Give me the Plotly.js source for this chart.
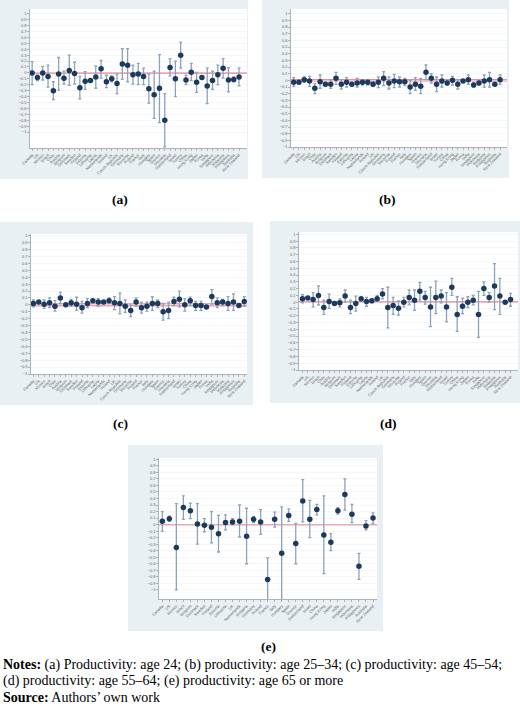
<!DOCTYPE html>
<html>
<head>
<meta charset="utf-8">
<script src="https://cdn.plot.ly/plotly-3.0.1.min.js"></script>
<style>html,body{margin:0;padding:0;background:#fff;}#chart{width:520px;height:719px;}</style>
</head>
<body>
<div id="chart"></div>
<script>
// ---------- DATA ----------
var countries40 = ["Canada","US","Mexico","Brazil","Chile","Austria","Belgium","Denmark","Sweden","Finland",
  "Estonia","Lithuania","Latvia","Netherlands","Ireland","UK","Czech Republic","Germany","Slovenia","Poland",
  "France","Italy","Hungary","Spain","Greece","Slovakia","Switzerland","Israel","Turkey","China",
  "Hong Kong","Japan","Korea","India","Singapore","Indonesia","Malaysia","Philippines","Australia","New Zealand"];
var countries31 = ["Canada","US","Mexico","Brazil","Belgium","Denmark","Sweden","Finland","Estonia","Lithuania",
  "UK","Netherlands","Bulgaria","Germany","Poland","France","Italy","Hungary","Spain","Greece",
  "Switzerland","Israel","China","Hong Kong","Japan","India","Singapore","Indonesia","Philippines","Australia","New Zealand"];

// (a) productivity: age 24
var estA = [0,-0.08,0,-0.06,-0.3,-0.02,-0.09,0.04,-0.01,-0.25,-0.14,-0.13,-0.07,0.07,-0.15,-0.1,-0.18,0.15,0.13,-0.03,
            -0.02,-0.06,-0.27,-0.37,-0.26,-0.8,0.09,-0.1,0.3,-0.12,0.01,-0.16,-0.08,-0.22,-0.13,-0.03,0.08,-0.12,-0.11,-0.07];
var loA  = [-0.2,-0.13,-0.12,-0.24,-0.45,-0.29,-0.19,-0.21,-0.19,-0.44,-0.28,-0.15,-0.26,-0.09,-0.25,-0.15,-0.35,-0.11,-0.15,-0.19,
            -0.2,-0.2,-0.51,-0.77,-0.84,-1.25,-0.05,-0.4,0.08,-0.2,-0.13,-0.33,-0.11,-0.52,-0.28,-0.2,-0.09,-0.32,-0.15,-0.22];
var hiA  = [0.19,-0.04,0.11,0.13,-0.15,0.26,0.03,0.3,0.18,-0.06,0.02,-0.11,0.12,0.21,-0.04,-0.05,-0.02,0.41,0.41,0.13,
            0.16,0.08,-0.02,0.03,0.31,-0.35,0.24,0.2,0.52,-0.04,0.16,0.01,-0.06,0.08,0.03,0.13,0.24,0.09,-0.07,0.08];

// (b) productivity: age 25-34
var estB = [-0.03,-0.03,0.01,-0.01,-0.12,-0.02,-0.06,-0.06,0.03,-0.06,-0.03,-0.06,-0.04,-0.03,-0.03,-0.06,-0.03,0.03,-0.04,-0.01,
            -0.02,-0.02,-0.1,-0.06,-0.09,0.12,0.03,-0.06,-0.01,-0.04,0,-0.06,-0.01,0.01,-0.07,-0.04,-0.01,0.01,-0.06,0.01];
var loB  = [-0.09,-0.05,-0.03,-0.09,-0.2,-0.12,-0.08,-0.12,-0.06,-0.13,-0.1,-0.07,-0.1,-0.07,-0.07,-0.09,-0.11,-0.08,-0.13,-0.11,
            -0.1,-0.08,-0.2,-0.15,-0.2,0.01,-0.04,-0.17,-0.1,-0.07,-0.07,-0.13,-0.02,-0.06,-0.1,-0.07,-0.1,-0.1,-0.07,-0.06];
var hiB  = [0.04,-0.02,0.05,0.06,-0.05,0.08,-0.04,0.01,0.12,0.01,0.04,-0.04,0.03,0.01,0.01,-0.02,0.05,0.13,0.05,0.09,
            0.05,0.03,0,0.04,0.03,0.23,0.1,0.05,0.08,-0.01,0.06,0.01,0,0.08,-0.04,-0.01,0.08,0.12,-0.05,0.08];

// (c) productivity: age 45-54
var estC = [0.02,0.04,0.01,0.03,-0.02,0.1,0,0.03,0.01,-0.04,0.02,0.06,0.04,0.04,0.06,0.03,0.02,-0.02,-0.08,0.04,
            -0.04,-0.02,0.02,0.02,-0.1,-0.08,0.05,0.08,0,0.06,-0.01,-0.01,-0.03,0.12,0.03,0.04,0.02,0.04,-0.01,0.05];
var loC  = [-0.03,0.03,-0.05,-0.04,-0.09,0.02,-0.01,-0.02,-0.08,-0.12,-0.04,0.05,-0.02,0.02,0.03,-0.07,-0.13,-0.11,-0.17,-0.02,
            -0.12,-0.09,-0.08,-0.04,-0.22,-0.2,-0.01,-0.03,-0.09,-0.01,-0.08,-0.08,-0.05,0.01,-0.04,-0.01,-0.08,-0.08,-0.02,-0.02];
var hiC  = [0.07,0.05,0.07,0.1,0.06,0.18,0.01,0.08,0.11,0.05,0.09,0.07,0.09,0.06,0.1,0.12,0.17,0.07,0,0.1,
            0.04,0.04,0.12,0.07,0.02,0.04,0.11,0.2,0.09,0.11,0.05,0.05,-0.02,0.22,0.1,0.08,0.12,0.16,0,0.12];

// (d) productivity: age 55-64
var estD = [0.05,0.06,0.04,0.1,-0.08,0.01,-0.02,-0.01,0.09,-0.08,-0.02,0.05,0.01,0.02,0.05,0.12,-0.08,-0.05,-0.09,0,
            0.07,0.03,0.16,0.07,-0.07,0.07,0.09,-0.07,0.22,-0.18,-0.06,0,0.03,-0.18,0.2,0.07,0.24,0.09,0,0.04];
var loD  = [-0.01,0.05,-0.07,-0.04,-0.18,-0.09,-0.03,-0.07,0,-0.17,-0.13,0.04,-0.06,-0.01,0.02,0.05,-0.38,-0.18,-0.19,-0.07,
            -0.04,-0.12,0.03,-0.03,-0.36,-0.17,-0.01,-0.29,0.1,-0.43,-0.17,-0.08,-0.04,-0.52,0.1,0,-0.11,-0.18,-0.01,-0.06];
var hiD  = [0.11,0.07,0.14,0.24,0.03,0.12,-0.01,0.05,0.18,0.03,0.09,0.06,0.07,0.05,0.1,0.2,0.22,0.07,0.02,0.07,
            0.18,0.18,0.29,0.16,0.22,0.31,0.18,0.14,0.35,0.08,0.06,0.08,0.1,0.16,0.3,0.14,0.57,0.35,0.01,0.13];

// (e) productivity: age 65 or more
var estE = [0.05,0.09,-0.35,0.26,0.21,0.01,-0.01,-0.04,-0.14,0.03,0.04,0.05,-0.18,0.08,0.04,-0.84,0.08,-0.44,0.14,-0.29,
            0.36,0.08,0.23,-0.16,-0.27,0.21,0.46,0.16,-0.64,-0.02,0.1];
var loE  = [-0.1,0.05,-1.0,0.08,0.09,-0.3,-0.11,-0.28,-0.42,-0.08,0,-0.19,-0.6,0.03,-0.15,-1.2,-0.04,-1.2,0.05,-0.6,
            0.04,-0.2,0.15,-0.75,-0.4,0.16,0.22,0.03,-0.84,-0.08,0.02];
var hiE  = [0.2,0.13,0.32,0.44,0.33,0.32,0.09,0.2,0.14,0.15,0.09,0.3,0.25,0.12,0.23,-0.51,0.19,0.27,0.24,0.02,
            0.69,0.37,0.31,0.44,-0.14,0.26,0.7,0.31,-0.44,0.06,0.18];

var panelLetters = ["(a)","(b)","(c)","(d)","(e)"];
var noteLines = [
  "<b>Notes:</b> (a) Productivity: age 24; (b) productivity: age 25–34; (c) productivity: age 45–54;",
  "(d) productivity: age 55–64; (e) productivity: age 65 or more",
  "<b>Source:</b> Authors’ own work"
];

// ---------- LAYOUT HELPERS ----------
var W = 520, H = 719;
function px(x){ return x / W; }
function py(y){ return 1 - y / H; }

var panels = [
  {est:estA, lo:loA, hi:hiA, cats:countries40, bg:[0,0,248,179],   plot:[30,9,247,148],   xr:[-0.4,40.5],  yr:[-1.27,1.08], zc:'#d9465f', zw:1.2, lab:[120,199]},
  {est:estB, lo:loB, hi:hiB, cats:countries40, bg:[262,0,509,178], plot:[291,9,507,147],  xr:[-0.5,40.3],  yr:[-1,1.07],    zc:'#ef8a9c', zw:2.5, lab:[387,199]},
  {est:estC, lo:loC, hi:hiC, cats:countries40, bg:[0,222,253,405], plot:[31,234,247,374], xr:[-0.43,39.5], yr:[-1,1.025],   zc:'#f2a3b2', zw:3.5, lab:[120,423]},
  {est:estD, lo:loD, hi:hiD, cats:countries40, bg:[270,221,520,403],plot:[299,232,518,370],xr:[-0.65,40.4], yr:[-1,1.035],   zc:'#d9465f', zw:1.2, lab:[388,423]},
  {est:estE, lo:loE, hi:hiE, cats:countries31, bg:[128,445,383,631],plot:[159,458,377,599],xr:[-0.47,30.57],yr:[-1.14,1.02], zc:'#d9465f', zw:1.2, lab:[268,646]}
];

var data = [], shapes = [], annotations = [];
var layout = {
  width: W, height: H,
  margin: {l:0, r:0, t:0, b:0, pad:0, autoexpand:false},
  paper_bgcolor: '#ffffff',
  plot_bgcolor: '#ffffff',
  showlegend: false,
  font: {family: 'Liberation Sans, Arial, sans-serif', color: '#555'}
};

var yticks = [], ytext = [];
for (var k = -10; k <= 10; k++) {
  var v = k / 10;
  yticks.push(v);
  ytext.push(k === 0 ? "0" : (k === 10 ? "1" : (k === -10 ? "−1" : (k < 0 ? "−0." + (-k) : "0." + k))));
}

panels.forEach(function(p, i){
  var n = i + 1;
  var xa = n === 1 ? 'x' : 'x' + n;
  var ya = n === 1 ? 'y' : 'y' + n;
  var xs = p.cats.map(function(_, j){ return j; });
  var plus = p.hi.map(function(h, j){ return h - p.est[j]; });
  var minus = p.lo.map(function(l, j){ return p.est[j] - l; });

  data.push({
    type: 'scatter', mode: 'markers', xaxis: xa, yaxis: ya,
    x: xs, y: p.est,
    marker: {color: '#1b3a5e', size: 5.5},
    error_y: {type: 'data', symmetric: false, array: plus, arrayminus: minus,
              color: '#8ea2b8', thickness: 1.3, width: 1.5},
    hoverinfo: 'skip'
  });

  var xkey = n === 1 ? 'xaxis' : 'xaxis' + n;
  var ykey = n === 1 ? 'yaxis' : 'yaxis' + n;
  layout[xkey] = {
    domain: [px(p.plot[0]), px(p.plot[2])],
    anchor: ya, automargin: false,
    range: p.xr,
    tickmode: 'array', tickvals: xs, ticktext: p.cats,
    tickangle: -45,
    tickfont: {size: 4, color: '#666'},
    ticks: 'outside', ticklen: 2.5, tickcolor: '#888', tickwidth: 0.6,
    showline: true, linecolor: '#888', linewidth: 0.6,
    showgrid: false, zeroline: false, fixedrange: true
  };
  layout[ykey] = {
    domain: [py(p.plot[3]), py(p.plot[1])],
    anchor: xa, automargin: false,
    range: p.yr,
    tickmode: 'array', tickvals: yticks, ticktext: ytext,
    tickfont: {size: 4, color: '#666'},
    ticks: 'outside', ticklen: 2, tickcolor: '#888', tickwidth: 0.6,
    showline: true, linecolor: '#888', linewidth: 0.6,
    showgrid: true, gridcolor: '#eef1f4', gridwidth: 0.6,
    zeroline: false, fixedrange: true
  };

  // panel background
  shapes.push({type:'rect', xref:'paper', yref:'paper', layer:'below',
    x0: px(p.bg[0]), x1: px(p.bg[2]), y0: py(p.bg[3]), y1: py(p.bg[1]),
    fillcolor: '#e9f0f3', line: {width: 0}});
  // white plot region
  shapes.push({type:'rect', xref:'paper', yref:'paper', layer:'below',
    x0: px(p.plot[0]), x1: px(p.plot[2]), y0: py(p.plot[3]), y1: py(p.plot[1]),
    fillcolor: '#ffffff', line: {width: 0}});
  // zero reference line
  shapes.push({type:'line', xref: xa + ' domain', yref: ya, layer:'below',
    x0: 0, x1: 1, y0: 0, y1: 0, line: {color: p.zc, width: p.zw}});

  annotations.push({xref:'paper', yref:'paper', x: px(p.lab[0]), y: py(p.lab[1]),
    text: '<b>' + panelLetters[i] + '</b>', showarrow: false,
    xanchor: 'center', yanchor: 'middle',
    font: {family: 'Liberation Serif, Times New Roman, serif', size: 13.5, color: '#000'}});
});

var noteY = [665, 681, 697];
noteLines.forEach(function(t, i){
  annotations.push({xref:'paper', yref:'paper', x: px(1), y: py(noteY[i]),
    text: t, showarrow: false, xanchor: 'left', yanchor: 'middle', align: 'left',
    font: {family: 'Liberation Serif, Times New Roman, serif', size: 14, color: '#000'}});
});

layout.shapes = shapes;
layout.annotations = annotations;

Plotly.newPlot('chart', data, layout, {displayModeBar: false, staticPlot: true});
</script>
</body>
</html>
